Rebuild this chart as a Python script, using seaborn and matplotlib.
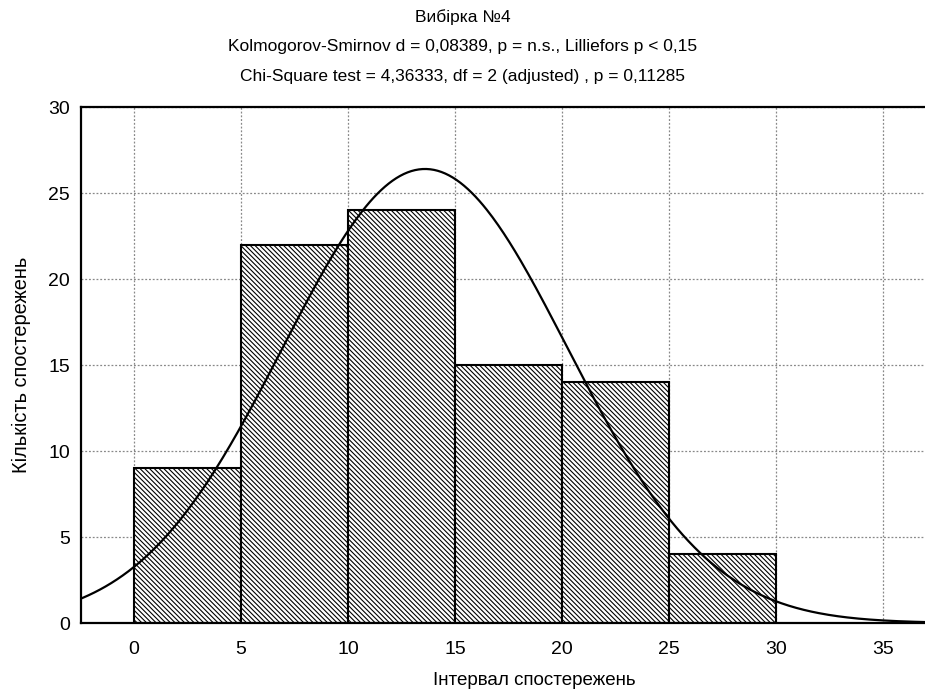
import numpy as np
import pandas as pd
import matplotlib
matplotlib.use("Agg")
import matplotlib.pyplot as plt
import seaborn as sns

# Interval edges and observed counts per interval
bin_edges = [0, 5, 10, 15, 20, 25, 30]
counts = [9, 22, 24, 15, 14, 4]

# Fitted normal curve parameters
fit_mean = 13.6
fit_sd = 6.65
bin_width = 5

title_lines = [
    "Вибірка №4",
    "Kolmogorov-Smirnov d = 0,08389, p = n.s., Lilliefors p < 0,15",
    "Chi-Square test = 4,36333, df = 2 (adjusted) , p = 0,11285",
]
x_label = "Інтервал спостережень"
y_label = "Кількість спостережень"
x_ticks = [0, 5, 10, 15, 20, 25, 30, 35]
y_ticks = [0, 5, 10, 15, 20, 25, 30]

sns.set_style("white")
plt.rcParams["font.family"] = ["Liberation Sans", "DejaVu Sans"]
plt.rcParams["hatch.linewidth"] = 0.8
plt.rcParams["text.color"] = "black"
plt.rcParams["axes.labelcolor"] = "black"
plt.rcParams["xtick.color"] = "black"
plt.rcParams["ytick.color"] = "black"

fig = plt.figure(figsize=(9.25, 6.93), dpi=100)
W, H = 925, 693
# the plotting area runs past the right edge of the canvas
left_px, right_px, top_px, bottom_px = 81, 987, 107, 623
ax = fig.add_axes([left_px / W, 1 - bottom_px / H,
                   (right_px - left_px) / W, (bottom_px - top_px) / H])

centers = [(a + b) / 2 for a, b in zip(bin_edges[:-1], bin_edges[1:])]
df = pd.DataFrame({"x": centers, "n": counts})
sns.histplot(data=df, x="x", weights="n", bins=bin_edges, ax=ax,
             color="white", edgecolor="black", linewidth=1.5, alpha=1.0, zorder=2)
for p in ax.patches:
    p.set_hatch("\\\\\\\\\\\\\\")
    p.set_facecolor("white")
    p.set_edgecolor("black")

n_total = sum(counts)
xs = np.linspace(-3, 41, 500)
ys = n_total * bin_width / (fit_sd * np.sqrt(2 * np.pi)) * np.exp(-0.5 * ((xs - fit_mean) / fit_sd) ** 2)
sns.lineplot(x=xs, y=ys, ax=ax, color="black", linewidth=1.6, zorder=3)

ax.set_xlim(-2.477, 39.86)
ax.set_ylim(0, 30)
ax.set_xticks(x_ticks)
ax.set_yticks(y_ticks)
ax.tick_params(axis="both", labelsize=14, length=0)
ax.tick_params(axis="x", pad=13)
ax.tick_params(axis="y", pad=8)
ax.grid(True, color="#888888", linestyle=(0, (1.5, 1.5)), linewidth=0.9, zorder=0)
ax.set_axisbelow(True)
for side in ["left", "top", "bottom"]:
    ax.spines[side].set_color("black")
    ax.spines[side].set_linewidth(1.6)
ax.spines["right"].set_visible(False)

ax.set_xlabel(x_label, fontsize=13.5, labelpad=10)
ax.set_ylabel(y_label, fontsize=14.4, labelpad=12)

for i, line in enumerate(title_lines):
    fig.text(0.5, 1 - (17 + 30 * i) / H, line, ha="center", va="center", fontsize=12.5)

fig.savefig("out.png", dpi=100)
